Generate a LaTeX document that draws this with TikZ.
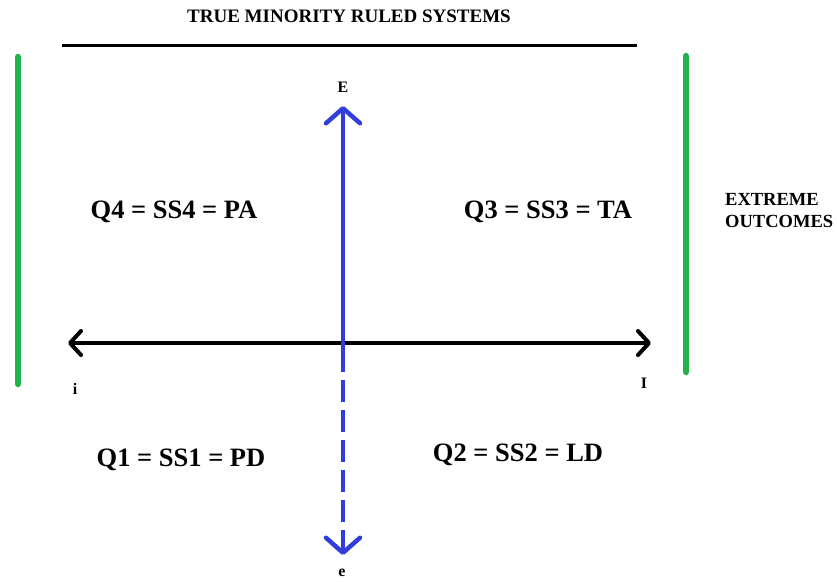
\documentclass[tikz,border=0pt]{standalone}
\usepackage{fontspec}
\setmainfont{Liberation Serif}
\usetikzlibrary{arrows.meta}
\definecolor{gline}{RGB}{34,178,76}
\definecolor{bline}{RGB}{50,62,220}
\begin{document}
\begin{tikzpicture}[x=1pt,y=-1pt,
  lbl/.style={font=\bfseries\fontsize{26.5}{28}\selectfont, inner sep=0pt},
  small/.style={font=\bfseries\fontsize{16}{18}\selectfont, inner sep=0pt},
  side/.style={font=\bfseries\fontsize{18.5}{22}\selectfont, inner sep=0pt, align=left},
  greenbar/.style={draw=gline, line width=6.5pt, line cap=round},
  blackarrow/.style={draw=black, line width=4pt, {Straight Barb[length=11pt,width=24pt,line width=4pt,round]}-{Straight Barb[length=11pt,width=24pt,line width=4pt,round]}},
  bluearrow/.style={draw=bline, line width=4pt},
  bluetip/.style={-{Straight Barb[length=15pt,width=34pt,line width=4.5pt,round]}},
]
\useasboundingbox (0,0) rectangle (837,581);
% title
\node[font=\bfseries\fontsize{19}{21}\selectfont, inner sep=0pt] (title) at (349,16) {TRUE MINORITY RULED SYSTEMS};
\coordinate (tl) at (62,45); \coordinate (tr) at (637,45);
\draw[line width=3pt] (tl) -- (tr);
% green bars
\coordinate (g1a) at (18,57); \coordinate (g1b) at (18,384);
\coordinate (g2a) at (686,56); \coordinate (g2b) at (686,372);
\draw[greenbar] (g1a) -- (g1b);
\draw[greenbar] (g2a) -- (g2b);
% horizontal axis
\coordinate (hl) at (68,343); \coordinate (hr) at (651,343);
\draw[blackarrow] (hl) -- (hr);
% vertical axis
\coordinate (vt) at (343,106); \coordinate (vm) at (343,372); \coordinate (vb) at (343,555);
\draw[bluearrow, bluetip] (vm) -- (vt);
\draw[bluearrow, dash pattern=on 22pt off 8pt, dash phase=-8pt] (vm) -- ([yshift=6pt]vb);
\draw[bluearrow, bluetip] ([yshift=20pt]vb) -- (vb);
% labels
\node[small] (E) at (343,87) {E};
\node[small] (e) at (342,573) {e};
\node[small] (i) at (75,389) {i};
\node[small] (I) at (644,383) {I};
\node[lbl] (q4) at (174,212) {Q4 = SS4 = PA};
\node[lbl] (q3) at (548,212) {Q3 = SS3 = TA};
\node[lbl] (q1) at (181,460) {Q1 = SS1 = PD};
\node[lbl] (q2) at (518,455) {Q2 = SS2 = LD};
\node[side, anchor=west] (ext) at (725,211) {EXTREME\\OUTCOMES};
\end{tikzpicture}
\end{document}
